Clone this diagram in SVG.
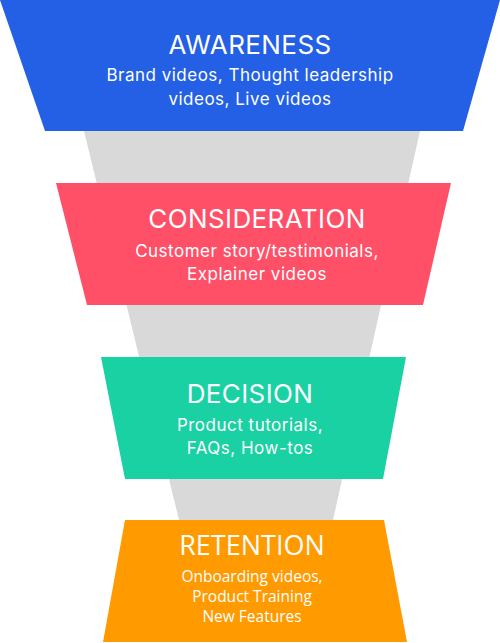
<svg xmlns="http://www.w3.org/2000/svg" width="500" height="643" viewBox="0 0 500 643">
<style>
.t{fill:#fff;text-anchor:middle;font-family:Inter,"Noto Sans",sans-serif}
.h{font-size:26px;letter-spacing:0.4px}
.s{font-size:17px;letter-spacing:0.5px}
.o{fill:#fff;text-anchor:middle;font-family:"Open Sans",sans-serif}
</style>
<g id="funnel-back"><polygon points="84,131 420,131 333,520 179,520" fill="#d9d9d9"/></g>
<g id="connectors"></g>
<g id="awareness">
<polygon points="0,0 500,0 463,131 45,131" fill="#2360e6"/>
<text class="t h" x="250" y="54">AWARENESS</text>
<text class="t s" x="250" y="81">Brand videos, Thought leadership</text>
<text class="t s" x="250" y="105">videos, Live videos</text>
</g>
<g id="consideration">
<polygon points="56,183 451,183 423,305 87,305" fill="#ff5068"/>
<text class="t h" x="257" y="228">CONSIDERATION</text>
<text class="t s" x="257" y="257">Customer story/testimonials,</text>
<text class="t s" x="257" y="280">Explainer videos</text>
</g>
<g id="decision">
<polygon points="101,357 406,357 383,479 125,479" fill="#19d1a2"/>
<text class="t h" x="250" y="403">DECISION</text>
<text class="t s" x="250" y="431">Product tutorials,</text>
<text class="t s" x="250" y="454">FAQs, How-tos</text>
</g>
<g id="retention">
<polygon points="125,520 384,520 407,642 103,642" fill="#ff9a00"/>
<text class="o" x="252" y="555" font-size="27">RETENTION</text>
<text class="o" x="252" y="582" font-size="15.5">Onboarding videos,</text>
<text class="o" x="252" y="602" font-size="15.5">Product Training</text>
<text class="o" x="252" y="622" font-size="15.5">New Features</text>
</g>
</svg>
